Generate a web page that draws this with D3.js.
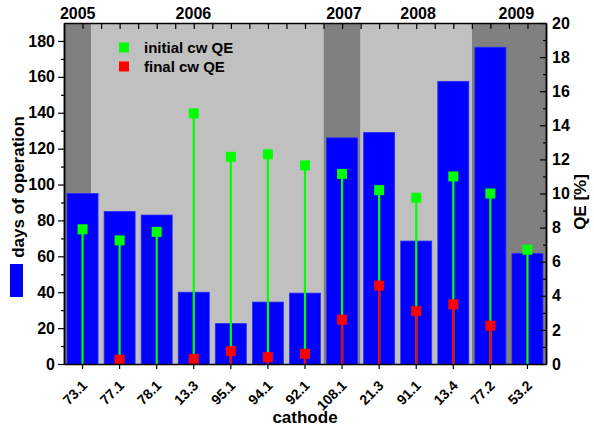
<!DOCTYPE html>
<html>
<head>
<meta charset="utf-8">
<script src="https://cdn.jsdelivr.net/npm/d3@7"></script>
<style>
  body { margin: 0; background: #fff; }
  svg text { font-family: Arial, "Liberation Sans", sans-serif; font-weight: bold; fill: #000; }
</style>
</head>
<body>
<div id="chart"></div>
<script>
// data
const cathodes = ["73.1", "77.1", "78.1", "13.3", "95.1", "94.1", "92.1", "108.1", "21.3", "91.1", "13.4", "77.2", "53.2"];
const days = [95, 85, 83, 40, 22.5, 34.5, 39.5, 126, 129, 68.5, 157.5, 176.5, 61.5];
const initialQE = [7.9, 7.25, 7.75, 14.7, 12.15, 12.3, 11.65, 11.15, 10.2, 9.75, 11.0, 10.0, 6.7];
const finalQE = [null, 0.25, null, 0.3, 0.75, 0.4, 0.6, 2.6, 4.6, 3.1, 3.5, 2.25, null];

// year periods, in category units along the x axis
const years = ["2005", "2006", "2007", "2008", "2009"];
const yearStart = [0, 0.73, 7, 8, 11];
const yearEnd = [0.73, 7, 8, 11, 13];
const yearLabelPos = [0.37, 3.49, 7.55, 9.55, 12.2];

const leftTicks = [0, 20, 40, 60, 80, 100, 120, 140, 160, 180];
const rightTicks = [0, 2, 4, 6, 8, 10, 12, 14, 16, 18, 20];

////////////////////////////  Init  ///////////////////////////////
const width = 594, height = 428;
const margin = { top: 23, right: 48, bottom: 64, left: 64 };
const x0 = margin.left, x1 = width - margin.right;
const y0 = height - margin.bottom, y1 = margin.top;

const svg = d3.select("#chart").append("svg")
  .attr("width", width)
  .attr("height", height);

// scales
const xLin = d3.scaleLinear().domain([0, cathodes.length]).range([x0, x1]);
const x = d3.scaleBand().domain(cathodes).range([x0, x1])
  .paddingInner(0.164).paddingOuter(0.082);
const yL = d3.scaleLinear().domain([0, 190]).range([y0, y1]);
const yR = d3.scaleLinear().domain([0, 20]).range([y0, y1]);
const cx = (i) => x(cathodes[i]) + x.bandwidth() / 2;

const dark = "#808080", light = "#c0c0c0";

// background by year
svg.append("g").selectAll("rect")
  .data(years)
  .join("rect")
  .attr("x", (d, i) => xLin(yearStart[i]))
  .attr("width", (d, i) => xLin(yearEnd[i]) - xLin(yearStart[i]))
  .attr("y", y1)
  .attr("height", y0 - y1)
  .attr("fill", (d, i) => (i % 2 === 0 ? dark : light));

// year labels
svg.append("g").selectAll("text")
  .data(years)
  .join("text")
  .attr("x", (d, i) => xLin(yearLabelPos[i]))
  .attr("y", 19)
  .attr("text-anchor", "middle")
  .style("font-size", "16px")
  .text((d) => d);

// bars
svg.append("g").selectAll("rect")
  .data(days)
  .join("rect")
  .attr("x", (d, i) => x(cathodes[i]))
  .attr("width", x.bandwidth())
  .attr("y", (d) => yL(d))
  .attr("height", (d) => y0 - yL(d))
  .attr("fill", "#0000ff")
  .attr("stroke", "#2a2aff")
  .attr("stroke-width", 0.8);

// stems
svg.append("g").selectAll("line")
  .data(initialQE)
  .join("line")
  .attr("x1", (d, i) => cx(i)).attr("x2", (d, i) => cx(i))
  .attr("y1", yR(0)).attr("y2", (d) => yR(d))
  .attr("stroke", "#00ff00").attr("stroke-width", 2.2);

const finals = finalQE.map((v, i) => ({ v, i })).filter((d) => d.v !== null);

svg.append("g").selectAll("line")
  .data(finals)
  .join("line")
  .attr("x1", (d) => cx(d.i)).attr("x2", (d) => cx(d.i))
  .attr("y1", yR(0)).attr("y2", (d) => yR(d.v))
  .attr("stroke", "#ff0000").attr("stroke-width", 2.2);

// markers
const ms = 10;
svg.append("g").selectAll("rect")
  .data(initialQE)
  .join("rect")
  .attr("x", (d, i) => cx(i) - ms / 2)
  .attr("y", (d) => yR(d) - ms / 2)
  .attr("width", ms).attr("height", ms)
  .attr("fill", "#00ff00");

svg.append("g").selectAll("rect")
  .data(finals)
  .join("rect")
  .attr("x", (d) => cx(d.i) - ms / 2)
  .attr("y", (d) => yR(d.v) - ms / 2)
  .attr("width", ms).attr("height", ms)
  .attr("fill", "#ff0000");

// legend
const legend = svg.append("g");
[["initial cw QE", "#00ff00"], ["final cw QE", "#ff0000"]].forEach((d, i) => {
  legend.append("rect")
    .attr("x", 119).attr("y", 42.5 + i * 19)
    .attr("width", ms).attr("height", ms)
    .attr("fill", d[1]);
  legend.append("text")
    .attr("x", 144).attr("y", 53 + i * 19)
    .style("font-size", "15px")
    .text(d[0]);
});

////////////////////////////  Axes  ///////////////////////////////
const styleAxis = (g, size) => {
  g.attr("font-size", null);
  g.select(".domain").attr("stroke", "#000").attr("stroke-width", 1.5);
  g.selectAll(".tick line").attr("stroke", "#000").attr("stroke-width", 1.2);
  g.selectAll("text").style("font-size", size).attr("font-family", null);
};

// left
svg.append("g")
  .attr("transform", `translate(${x0},0)`)
  .call(d3.axisLeft(yL).tickValues(d3.range(10, 190, 20)).tickSize(3).tickFormat("").tickSizeOuter(0))
  .call((g) => styleAxis(g, "16px"));
svg.append("g")
  .attr("transform", `translate(${x0},0)`)
  .call(d3.axisLeft(yL).tickValues(leftTicks).tickSize(6).tickPadding(3).tickSizeOuter(0))
  .call((g) => styleAxis(g, "16px"));

// right
svg.append("g")
  .attr("transform", `translate(${x1},0)`)
  .call(d3.axisRight(yR).tickValues(d3.range(1, 20, 2)).tickSize(-3).tickFormat("").tickSizeOuter(0))
  .call((g) => styleAxis(g, "16px"));
svg.append("g")
  .attr("transform", `translate(${x1},0)`)
  .call(d3.axisRight(yR).tickValues(rightTicks).tickSize(-6).tickPadding(6).tickSizeOuter(0))
  .call((g) => styleAxis(g, "16px"));

// top
svg.append("g")
  .attr("transform", `translate(0,${y1})`)
  .call(d3.axisTop(xLin).tickValues(d3.range(0.5, cathodes.length, 0.5)).tickSize(-6).tickFormat("").tickSizeOuter(0))
  .call((g) => styleAxis(g, "12px"));

// bottom
svg.append("g")
  .attr("transform", `translate(0,${y0})`)
  .call(d3.axisBottom(x).tickSize(5).tickSizeOuter(0))
  .call((g) => styleAxis(g, "14px"))
  .call((g) => g.selectAll(".tick text")
    .attr("text-anchor", "end")
    .attr("x", 0)
    .attr("y", 0)
    .attr("dy", "0.35em")
    .attr("transform", "translate(2,19) rotate(-45)"));

// axis titles
svg.append("text")
  .attr("transform", `translate(24,187) rotate(-90)`)
  .attr("text-anchor", "middle")
  .style("font-size", "17px")
  .text("days of operation");

svg.append("rect")
  .attr("x", 10).attr("y", 264)
  .attr("width", 13).attr("height", 33)
  .attr("fill", "#0000ff");

svg.append("text")
  .attr("transform", `translate(586,202) rotate(-90)`)
  .attr("text-anchor", "middle")
  .style("font-size", "17px")
  .text("QE [%]");

svg.append("text")
  .attr("x", 305).attr("y", 423)
  .attr("text-anchor", "middle")
  .style("font-size", "17px")
  .text("cathode");
</script>
</body>
</html>
